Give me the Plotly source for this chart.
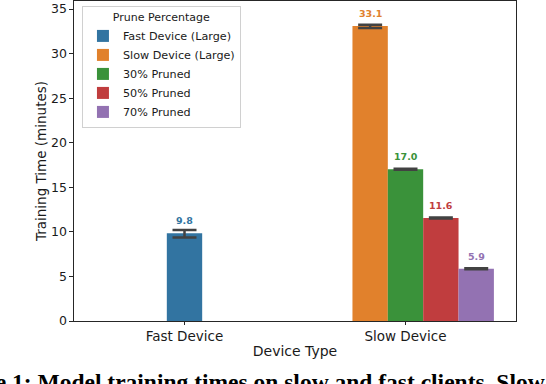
import plotly.graph_objects as go

# data
devices = ["Fast Device", "Slow Device"]
series = ["Fast Device (Large)", "Slow Device (Large)", "30% Pruned", "50% Pruned", "70% Pruned"]
series_device = ["Fast Device", "Slow Device", "Slow Device", "Slow Device", "Slow Device"]
mean_minutes = [9.84, 33.1, 17.02, 11.56, 5.86]
err_up = [0.38, 0.14, 0.05, 0.05, 0.05]
err_down = [0.47, 0.22, 0.05, 0.05, 0.05]

colors = ["#3274a1", "#e1812c", "#3a923a", "#c03d3e", "#9372b2"]
# left edge of each bar relative to its category centre
offsets = [-0.08, -0.24, -0.08, 0.08, 0.24]
BAR_W = 0.16
FONT = "DejaVu Sans"

fig = go.Figure()
for name, dev, m, eu, ed, c, off in zip(
    series, series_device, mean_minutes, err_up, err_down, colors, offsets
):
    fig.add_trace(
        go.Bar(
            x=[dev],
            y=[m],
            name=name,
            width=BAR_W,
            offset=off,
            marker=dict(color=c, line=dict(width=0)),
            error_y=dict(
                type="data",
                symmetric=False,
                array=[eu],
                arrayminus=[ed],
                color="#424242",
                thickness=2.5,
                width=12,
            ),
        )
    )
    # value label above the bar
    fig.add_annotation(
        x=devices.index(dev) + off + BAR_W / 2,
        y=m,
        text=f"<b>{m:.1f}</b>",
        showarrow=False,
        yanchor="bottom",
        yshift=5,
        font=dict(family=FONT, size=9.5, color=c),
    )

# paper caption, cropped at the edges as in the source image
fig.add_annotation(
    text="<b>Figure 1: Model training times on slow and fast clients. Slow</b>",
    xref="paper",
    yref="paper",
    x=1.07,
    y=-0.143,
    xanchor="right",
    yanchor="top",
    showarrow=False,
    font=dict(family="Liberation Serif", size=23.5, color="black"),
)

fig.update_layout(
    width=546,
    height=384,
    barmode="overlay",
    plot_bgcolor="white",
    paper_bgcolor="white",
    margin=dict(l=74, r=30, t=1, b=63),
    font=dict(family=FONT, size=12, color="#1a1a1a"),
    showlegend=True,
    legend=dict(
        title=dict(text="Prune Percentage", side="top center", font=dict(size=11)),
        x=0.018,
        y=0.984,
        xanchor="left",
        yanchor="top",
        bgcolor="rgba(255,255,255,0.8)",
        bordercolor="#d0d0d0",
        borderwidth=1,
        font=dict(size=11.2),
        tracegroupgap=0,
        itemwidth=30,
    ),
    xaxis=dict(
        title=dict(text="Device Type", standoff=2, font=dict(size=14)),
        tickfont=dict(size=13.5),
        categoryorder="array",
        categoryarray=devices,
        range=[-0.5, 1.5],
        showline=True,
        mirror=True,
        linecolor="#262626",
        linewidth=1.2,
        ticks="outside",
        ticklen=3,
        tickcolor="#262626",
        showgrid=False,
    ),
    yaxis=dict(
        title=dict(text="Training Time (minutes)", standoff=1, font=dict(size=13.5)),
        tickfont=dict(size=12.5),
        range=[0, 35.9],
        dtick=5,
        showline=True,
        mirror=True,
        linecolor="#262626",
        linewidth=1.2,
        ticks="outside",
        ticklen=3.5,
        tickcolor="#262626",
        showgrid=False,
        zeroline=False,
    ),
)

fig.write_html(
    "out.html",
    config={"displayModeBar": False},
    post_script="document.body.style.margin='0';",
)
